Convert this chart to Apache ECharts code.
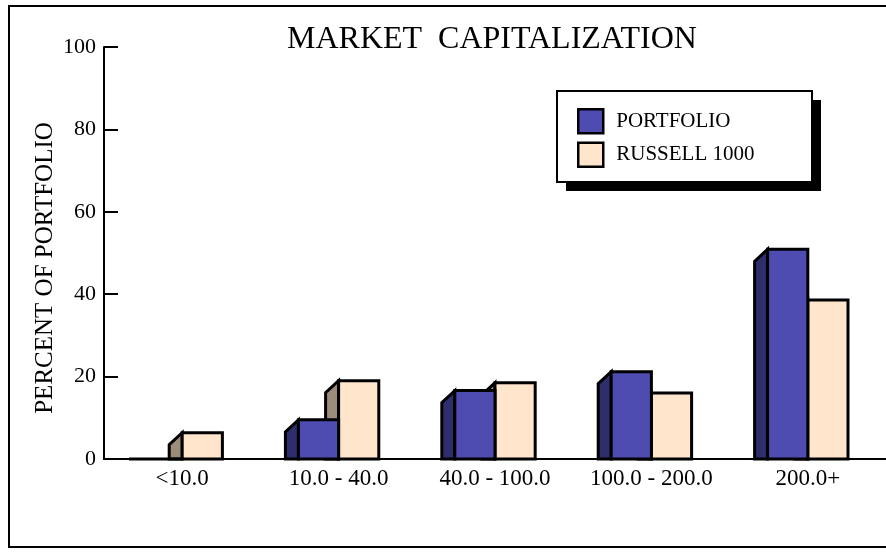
<!DOCTYPE html>
<html>
<head>
<meta charset="utf-8">
<script src="https://cdn.jsdelivr.net/npm/echarts@6/dist/echarts.min.js"></script>
<style>
  html, body { margin: 0; padding: 0; background: #fff; }
  #chart { width: 886px; height: 553px; }
</style>
</head>
<body>
<div id="chart"></div>
<script>
var categories = ['<10.0', '10.0 - 40.0', '40.0 - 100.0', '100.0 - 200.0', '200.0+'];
var portfolio = [0, 9.5, 16.6, 21.2, 50.9];
var russell = [6.4, 19.0, 18.5, 16.0, 38.6];
var yTicks = [0, 20, 40, 60, 80, 100];

var FONT = 'Liberation Serif';
var DX = 13, DY = 12;

// front face + left side face, side drawn darker
function makeRender(left, front, side) {
  return function (params, api) {
    var idx = api.value(0);
    var val = api.value(1);
    var base = api.coord([idx, 0]);
    var top = api.coord([idx, val]);
    var band = api.size([1, 0])[0];
    var w = band * 0.257;
    var x0 = left ? base[0] - w : base[0];
    var x1 = x0 + w;
    var sideTop = Math.min(top[1] + DY, base[1]);
    return {
      type: 'group',
      children: [
        {
          type: 'polygon',
          shape: { points: [[x0 - DX, base[1]], [x0 - DX, sideTop], [x0, top[1]], [x0, base[1]]] },
          style: { fill: side, stroke: '#000', lineWidth: 3, lineJoin: 'miter' }
        },
        {
          type: 'polygon',
          shape: { points: [[x0, base[1]], [x0, top[1]], [x1, top[1]], [x1, base[1]]] },
          style: { fill: front, stroke: '#000', lineWidth: 3, lineJoin: 'miter' }
        }
      ]
    };
  };
}

var chart = echarts.init(document.getElementById('chart'));
chart.setOption({
  animation: false,
  backgroundColor: '#fff',
  title: {
    text: 'MARKET  CAPITALIZATION',
    left: 282,
    top: 19,
    textStyle: { fontFamily: FONT, fontSize: 32, fontWeight: 'normal', color: '#000' }
  },
  graphic: [
    { type: 'rect', z: 0, shape: { x: 9, y: 6, width: 900, height: 541 },
      style: { fill: 'none', stroke: '#000', lineWidth: 2 } },
    { type: 'rect', z: 1, shape: { x: 566, y: 100, width: 255, height: 91 },
      style: { fill: '#000' } },
    { type: 'rect', z: 2, shape: { x: 557, y: 91, width: 255, height: 91 },
      style: { fill: '#fff', stroke: '#000', lineWidth: 2 } },
    { type: 'text', z: 2, x: 45, y: 268, rotation: Math.PI / 2,
      style: { text: 'PERCENT OF PORTFOLIO', fontFamily: FONT, fontSize: 25, fill: '#000',
               align: 'center', verticalAlign: 'middle' } }
  ],
  legend: {
    orient: 'vertical',
    left: 577,
    top: 108,
    padding: 0,
    itemWidth: 25,
    itemHeight: 24,
    itemGap: 7,
    z: 10,
    icon: 'rect',
    textStyle: { fontFamily: FONT, fontSize: 21, color: '#000', padding: [0, 0, 0, 8] },
    data: [
      { name: 'PORTFOLIO', itemStyle: { color: '#4e4cb0', borderColor: '#000', borderWidth: 2.5 } },
      { name: 'RUSSELL 1000', itemStyle: { color: '#ffe5cc', borderColor: '#000', borderWidth: 2.5 } }
    ]
  },
  grid: { left: 104, top: 47, width: 787, bottom: 94, containLabel: false },
  xAxis: {
    type: 'category',
    data: categories,
    axisLine: { lineStyle: { color: '#000', width: 2 } },
    axisTick: { show: false },
    axisLabel: { interval: 0, hideOverlap: false, fontFamily: FONT, fontSize: 23, color: '#000', margin: 8 }
  },
  yAxis: {
    type: 'value',
    min: 0,
    max: 100,
    interval: 20,
    axisLine: { show: true, lineStyle: { color: '#000', width: 2 } },
    axisTick: { show: true, inside: true, length: 14, lineStyle: { color: '#000', width: 2 } },
    axisLabel: {
      fontFamily: FONT, fontSize: 22, color: '#000', margin: 8,
      formatter: function (v) { return yTicks.indexOf(v) >= 0 ? String(v) : ''; }
    },
    splitLine: { show: false }
  },
  series: [
    {
      name: 'RUSSELL 1000',
      type: 'custom',
      z: 2,
      itemStyle: { color: '#ffe5cc' },
      renderItem: makeRender(false, '#ffe5cc', '#9d8c7a'),
      encode: { x: 0, y: 1 },
      data: russell.map(function (v, i) { return [i, v]; })
    },
    {
      name: 'PORTFOLIO',
      type: 'custom',
      z: 3,
      itemStyle: { color: '#4e4cb0' },
      renderItem: makeRender(true, '#4e4cb0', '#2f2e6c'),
      encode: { x: 0, y: 1 },
      data: portfolio.map(function (v, i) { return [i, v]; })
    }
  ]
});
</script>
</body>
</html>
